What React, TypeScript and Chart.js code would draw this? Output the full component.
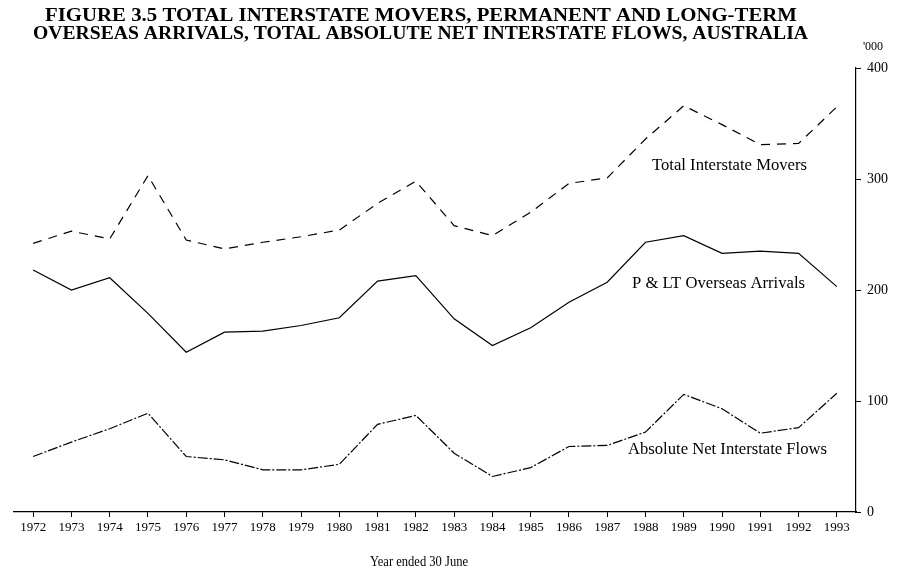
import { useEffect, useRef } from "react";
import { Chart, registerables } from "chart.js";

Chart.register(...registerables);

const years = [
  "1972", "1973", "1974", "1975", "1976", "1977", "1978", "1979", "1980", "1981", "1982",
  "1983", "1984", "1985", "1986", "1987", "1988", "1989", "1990", "1991", "1992", "1993",
];

// thousands
const interstateMovers = [242, 253, 246, 303, 245, 237, 243, 248, 254, 278, 298, 258, 249, 270, 296, 301, 336, 366, 349, 331, 332, 365];
const overseasArrivals = [218, 200, 211, 179, 144, 162, 163, 168, 175, 208, 213, 174, 150, 166, 189, 207, 243, 249, 233, 235, 233, 203];
const netInterstateFlows = [50, 63, 75, 89, 50, 47, 38, 38, 43, 79, 87, 53, 32, 40, 59, 60, 72, 106, 93, 71, 76, 107];

const yTicks = [0, 100, 200, 300, 400];

const titleLines = [
  "FIGURE 3.5 TOTAL INTERSTATE MOVERS, PERMANENT AND LONG-TERM",
  "OVERSEAS ARRIVALS, TOTAL ABSOLUTE NET INTERSTATE FLOWS, AUSTRALIA",
];
const seriesNames = ["Total Interstate Movers", "P & LT Overseas Arrivals", "Absolute Net Interstate Flows"];
const unitLabel = "'000";
const xTitle = "Year ended 30 June";

const SERIF = "'Liberation Serif', 'DejaVu Serif', serif";

function fitText(ctx: CanvasRenderingContext2D, text: string, left: number, right: number, cy: number, font: string) {
  ctx.save();
  ctx.font = font;
  const w = ctx.measureText(text).width;
  ctx.translate(left, cy);
  ctx.scale((right - left) / w, 1);
  ctx.textAlign = "left";
  ctx.textBaseline = "middle";
  ctx.fillStyle = "#000";
  ctx.fillText(text, 0, 0);
  ctx.restore();
}

const textPlugin = {
  id: "texts",
  afterDraw(chart: any) {
    const ctx: CanvasRenderingContext2D = chart.ctx;
    fitText(ctx, titleLines[0], 45, 797, 16, `bold 18px ${SERIF}`);
    fitText(ctx, titleLines[1], 33, 808, 34, `bold 18px ${SERIF}`);
    fitText(ctx, seriesNames[0], 652, 807, 166, `16px ${SERIF}`);
    fitText(ctx, seriesNames[1], 632, 805, 284, `16px ${SERIF}`);
    fitText(ctx, seriesNames[2], 628, 827, 450, `16px ${SERIF}`);
    ctx.save();
    ctx.fillStyle = "#000";
    ctx.font = `12px ${SERIF}`;
    ctx.textAlign = "center";
    ctx.textBaseline = "middle";
    ctx.fillText(unitLabel, 873, 47);
    ctx.font = `14px ${SERIF}`;
    fitText(ctx, xTitle, 370, 468, 562, `14px ${SERIF}`);
    ctx.restore();
  },
};

export default function App() {
  const ref = useRef<HTMLCanvasElement>(null);
  useEffect(() => {
    if (!ref.current) return;
    const line = (data: number[], dash: number[]) => ({
      data,
      borderColor: "#000",
      borderWidth: 1.2,
      borderDash: dash,
      pointRadius: 0,
      tension: 0,
      fill: false,
    });
    const chart = new Chart(ref.current, {
      type: "line",
      data: {
        labels: years,
        datasets: [
          { label: seriesNames[0], ...line(interstateMovers, [9, 7]) },
          { label: seriesNames[1], ...line(overseasArrivals, []) },
          { label: seriesNames[2], ...line(netInterstateFlows, [10, 2, 2, 2]) },
        ],
      },
      options: {
        responsive: false,
        animation: false,
        layout: { padding: { left: 14, top: 68, right: 0, bottom: 0 } },
        plugins: { legend: { display: false }, tooltip: { enabled: false }, title: { display: false } },
        scales: {
          x: {
            offset: true,
            grid: { offset: false, drawOnChartArea: false, drawTicks: true, tickLength: 5, color: "#000", lineWidth: 1 },
            border: { display: true, color: "#000", width: 1.2 },
            ticks: { color: "#000", font: { family: SERIF, size: 13 }, maxRotation: 0, autoSkip: false, padding: 3 },
            afterFit: (s: any) => { s.height = 61; },
          },
          y: {
            position: "right",
            min: 0,
            max: 400,
            afterBuildTicks: (s: any) => { s.ticks = yTicks.map((v) => ({ value: v })); },
            grid: { drawOnChartArea: false, drawTicks: true, tickLength: 5, color: "#000", lineWidth: 1 },
            border: { display: true, color: "#000", width: 1.2 },
            ticks: { color: "#000", font: { family: SERIF, size: 14 }, padding: 6 },
            afterFit: (s: any) => { s.width = 47; },
          },
        },
      },
      plugins: [textPlugin],
    });
    return () => chart.destroy();
  }, []);
  return (
    <div style={{ position: "fixed", left: 0, top: 0, width: 903, height: 573, background: "#fff" }}>
      <canvas ref={ref} width={903} height={573} style={{ display: "block" }} />
    </div>
  );
}
